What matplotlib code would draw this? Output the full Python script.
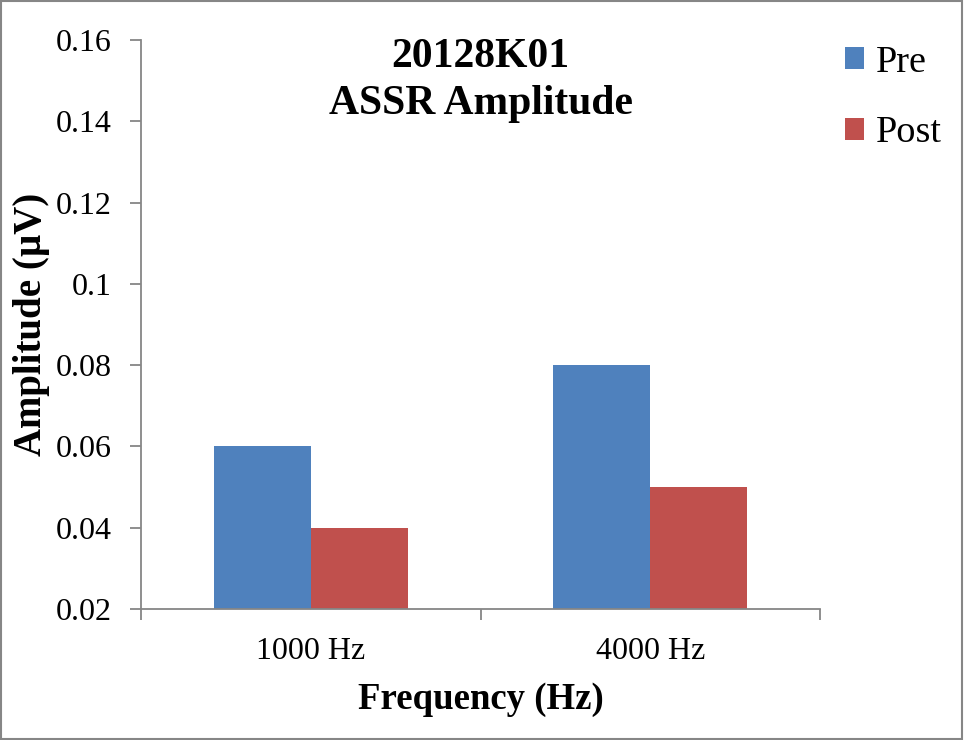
import matplotlib
matplotlib.use("Agg")
import matplotlib.pyplot as plt
import matplotlib.patches as mpatches
from matplotlib.ticker import FixedLocator
import numpy as np

categories = ["1000 Hz", "4000 Hz"]
series_names = ["Pre", "Post"]
pre_values = [0.06, 0.08]
post_values = [0.04, 0.05]
colors = ["#4F81BD", "#C0504D"]
y_ticks = [0.02, 0.04, 0.06, 0.08, 0.10, 0.12, 0.14, 0.16]
y_tick_labels = ["0.02", "0.04", "0.06", "0.08", "0.1", "0.12", "0.14", "0.16"]

plt.rcParams['font.family'] = ['Liberation Serif', 'DejaVu Serif']

fig = plt.figure(figsize=(9.64, 7.40), dpi=100)
ax = fig.add_axes([141/964, 1-609/740, (820-141)/964, (609-40)/740])

x = np.arange(len(categories))
w = 1/3.5
ax.bar(x - w/2, pre_values, width=w, color=colors[0], label=series_names[0])
ax.bar(x + w/2, post_values, width=w, color=colors[1], label=series_names[1])

ax.set_ylim(0.02, 0.16)
ax.set_xlim(-0.5, len(categories) - 0.5)
ax.set_yticks(y_ticks)
ax.set_yticklabels(y_tick_labels)
ax.set_xticks(x)
ax.set_xticklabels(categories)
ax.tick_params(axis='x', length=0, labelsize=23, pad=20)
ax.tick_params(axis='y', length=8, width=1.3, color='#868686', labelsize=23, pad=13)
ax.xaxis.set_minor_locator(FixedLocator(np.arange(-0.5, len(categories), 1.0)))
ax.tick_params(axis='x', which='minor', length=8, width=1.3, color='#868686', direction='out')

for s in ['top', 'right']:
    ax.spines[s].set_visible(False)
for s in ['left', 'bottom']:
    ax.spines[s].set_color('#868686')
    ax.spines[s].set_linewidth(1.3)

ax.set_xlabel("Frequency (Hz)", fontsize=26.5, fontweight='bold', labelpad=12)
ax.set_ylabel("Amplitude (µV)", fontsize=28, fontweight='bold', labelpad=4)
ax.set_title("20128K01\nASSR Amplitude", fontsize=30, fontweight='bold', y=1.0, pad=-53, linespacing=1.28)

fig.legend(loc='upper left', bbox_to_anchor=(845/964, 1-45/740), frameon=False,
           fontsize=27.5, handlelength=0.5, handleheight=0.5, handletextpad=0.3,
           labelspacing=0.95, borderaxespad=0, borderpad=0)

fig.patches.append(mpatches.Rectangle((0.001, 0.001), 0.997, 0.997, transform=fig.transFigure,
                                      fill=False, edgecolor='#868686', linewidth=1.5))

fig.savefig("out.png", dpi=100)
